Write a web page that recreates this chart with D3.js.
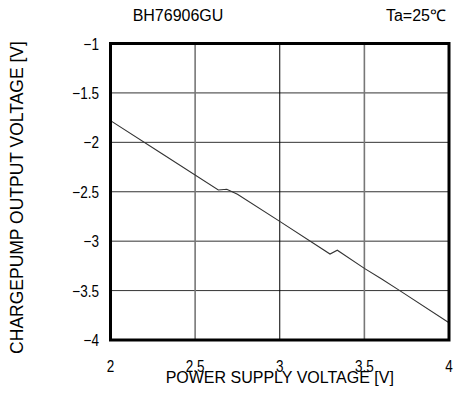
<!DOCTYPE html>
<html>
<head>
<meta charset="utf-8">
<script src="https://cdn.jsdelivr.net/npm/d3@7"></script>
<style>
  html, body { margin: 0; padding: 0; background: #fff; }
  svg { display: block; }
  .tick-label { font-family: "Liberation Sans", Arial, sans-serif; font-size: 16.5px; fill: #000; }
  .title { font-family: "Liberation Sans", Arial, sans-serif; font-size: 16px; fill: #000; }
</style>
</head>
<body>
<script>
// ---- data ----
const supplyVoltage = [2.0, 2.3, 2.637, 2.687, 2.75, 3.0, 3.297, 3.34, 3.5, 3.6, 3.7, 4.0];
const outputVoltage = [-1.78, -2.11, -2.482, -2.475, -2.525, -2.80, -3.13, -3.092, -3.275, -3.38, -3.49, -3.825];
const xTicks = [2, 2.5, 3, 3.5, 4];
const yTicks = [-1, -1.5, -2, -2.5, -3, -3.5, -4];
const xTickLabels = ["2", "2.5", "3", "3.5", "4"];
const yTickLabels = ["\u22121", "\u22121.5", "\u22122", "\u22122.5", "\u22123", "\u22123.5", "\u22124"];
const chartTitle = "BH76906GU";
const condition = "Ta=25\u2103";
const xTitle = "POWER SUPPLY VOLTAGE [V]";
const yTitle = "CHARGEPUMP OUTPUT VOLTAGE [V]";

// ---- layout ----
const W = 454, H = 394;
const mLeft = 110.5, mRight = 449, mTop = 43.5, mBottom = 340;
const narrow = 0.82;

const svg = d3.select("body").append("svg").attr("width", W).attr("height", H);

const x = d3.scaleLinear().domain([2, 4]).range([mLeft, mRight]);
const y = d3.scaleLinear().domain([-4, -1]).range([mBottom, mTop]);

// grid: horizontal
const g = svg.append("g");
g.selectAll("line.h").data(yTicks.filter(v => v > -4 && v < -1)).enter().append("line")
  .attr("x1", mLeft).attr("x2", mRight)
  .attr("y1", d => y(d)).attr("y2", d => y(d))
  .attr("stroke", "#333").attr("stroke-width", 1);
// grid: vertical
g.selectAll("line.v").data(xTicks.filter(v => v > 2 && v < 4)).enter().append("line")
  .attr("y1", mTop).attr("y2", mBottom)
  .attr("x1", d => x(d)).attr("x2", d => x(d))
  .attr("stroke", d => d === 3 ? "#000" : "#777")
  .attr("stroke-width", d => d === 3 ? 1 : 1.6);

// data line
const line = d3.line().x((d, i) => x(supplyVoltage[i])).y(d => y(d));
svg.append("path").datum(outputVoltage)
  .attr("d", line)
  .attr("fill", "none").attr("stroke", "#333").attr("stroke-width", 1.1);

// frame
svg.append("rect")
  .attr("x", mLeft).attr("y", mTop)
  .attr("width", mRight - mLeft).attr("height", mBottom - mTop)
  .attr("fill", "none").attr("stroke", "#000").attr("stroke-width", 3);

// y tick labels (condensed)
svg.selectAll("text.yt").data(yTicks).enter().append("text")
  .attr("class", "tick-label")
  .attr("transform", d => `translate(99, ${y(d) + 6}) scale(${narrow}, 1)`)
  .attr("text-anchor", "end")
  .text((d, i) => yTickLabels[i]);

// x tick labels (condensed)
svg.selectAll("text.xt").data(xTicks).enter().append("text")
  .attr("class", "tick-label")
  .attr("transform", d => `translate(${x(d)}, 372) scale(${narrow}, 1)`)
  .attr("text-anchor", "middle")
  .text((d, i) => xTickLabels[i]);

// titles
svg.append("text").attr("class", "title")
  .attr("x", 178).attr("y", 21).attr("text-anchor", "middle").text(chartTitle);
svg.append("text").attr("class", "title")
  .attr("x", 446).attr("y", 21).attr("text-anchor", "end").text(condition);
svg.append("text").attr("class", "title")
  .attr("x", (mLeft + mRight) / 2).attr("y", 383).attr("text-anchor", "middle").text(xTitle);
svg.append("text").attr("class", "title")
  .attr("transform", `translate(23, 197.5) rotate(-90)`)
  .attr("text-anchor", "middle")
  .style("font-size", "17.5px")
  .text(yTitle);
</script>
</body>
</html>
